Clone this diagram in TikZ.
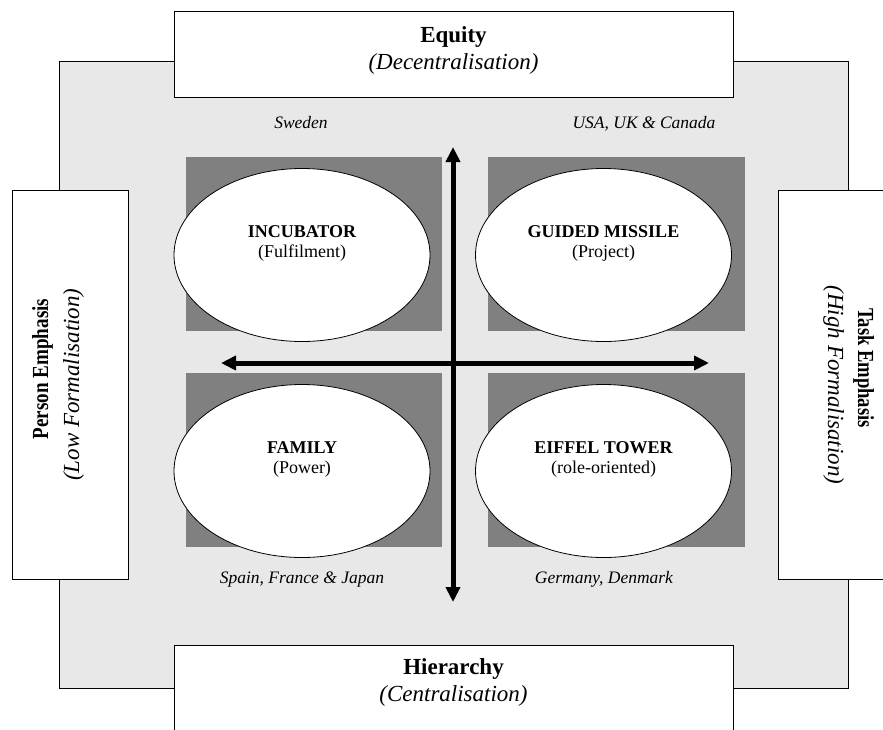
\documentclass[tikz,border=0pt]{standalone}
\usepackage{graphicx}
\usepackage{fontspec}
\setmainfont{Liberation Serif}
\usetikzlibrary{shapes.geometric,arrows.meta}

\definecolor{paper}{HTML}{E8E8E8}
\definecolor{shadow}{HTML}{808080}

\begin{document}
\begin{tikzpicture}[x=1pt,y=-1pt,
  sidebox/.style={draw=black, fill=white, line width=0.9pt, inner sep=0pt},
  culture/.style={ellipse, draw=black, fill=white, line width=0.8pt, minimum width=256pt, minimum height=173pt, inner sep=0pt},
  headtext/.style={font=\fontsize{23}{27}\selectfont\bfseries, anchor=base, inner sep=0pt},
  sidehead/.style={font=\fontsize{23}{27}\selectfont\bfseries, anchor=base, inner sep=0pt},
  subtext/.style={font=\fontsize{23}{27}\selectfont\itshape, anchor=base, inner sep=0pt},
  ctitle/.style={font=\fontsize{18}{21}\selectfont\bfseries, anchor=base, inner sep=0pt},
  csub/.style={font=\fontsize{18}{21}\selectfont, anchor=base, inner sep=0pt},
  country/.style={font=\fontsize{17.5}{20}\selectfont\itshape, anchor=base, inner sep=0pt},
  axis/.style={line width=5pt, {Triangle[length=15pt,width=14pt]}-{Triangle[length=15pt,width=14pt]}}] % Tikz environment
\useasboundingbox (0,0) rectangle (883,729);

% grey field behind everything
\filldraw[fill=paper, draw=black, line width=0.9pt] (59,61) rectangle (848,688);

% the four dimension boxes
\node[sidebox, minimum width=559pt, minimum height=86pt] (equity) at (453.5,54) {};
\node[sidebox, minimum width=559pt, minimum height=86pt] (hierarchy) at (453.5,688) {};
\node[sidebox, minimum width=116pt, minimum height=389pt] (person) at (70,384.5) {};
\node[sidebox, minimum width=116pt, minimum height=389pt] (task) at (836,384.5) {};

\node[headtext] (equityT) at (453.5,42) {Equity};
\node[subtext] (equityS) at (453.5,69) {(Decentralisation)};
\node[headtext] (hierarchyT) at (453.5,674) {Hierarchy};
\node[subtext] (hierarchyS) at (453.5,701) {(Centralisation)};
% the side titles are squeezed along the line
\node[sidehead, rotate=90] (personT) at (48,369) {\scalebox{0.83}[1]{Person Emphasis}};
\node[subtext, rotate=90] (personS) at (79,384.5) {(Low Formalisation)};
\node[sidehead, rotate=-90] (taskT) at (858,368) {\scalebox{0.81}[1]{Task Emphasis}};
\node[subtext, rotate=-90] (taskS) at (828,385) {(High Formalisation)};

% dark squares
\fill[shadow] (186,157) rectangle (442,331);
\fill[shadow] (488,157) rectangle (745,331);
\fill[shadow] (186,373) rectangle (442,547);
\fill[shadow] (488,373) rectangle (745,547);

% the four cultures
\node[culture] (incubator) at (302,255) {};
\node[culture] (missile) at (603.5,255) {};
\node[culture] (family) at (302,471) {};
\node[culture] (eiffel) at (603.5,471) {};

\node[ctitle] (incubatorT) at ([yshift=18pt]incubator.center) {INCUBATOR};
\node[csub] (incubatorS) at ([yshift=-2pt]incubator.center) {(Fulfilment)};
\node[ctitle] (missileT) at ([yshift=18pt]missile.center) {GUIDED MISSILE};
\node[csub] (missileS) at ([yshift=-2pt]missile.center) {(Project)};
\node[ctitle] (familyT) at ([yshift=18pt]family.center) {FAMILY};
\node[csub] (familyS) at ([yshift=-2pt]family.center) {(Power)};
\node[ctitle] (eiffelT) at ([yshift=18pt]eiffel.center) {EIFFEL TOWER};
\node[csub] (eiffelS) at ([yshift=-2pt]eiffel.center) {(role-oriented)};

% countries
\node[country] (sweden) at (301,128) {Sweden};
\node[country] (usa) at (644,128) {USA, UK \& Canada};
\node[country] (spain) at (302,583) {Spain, France \& Japan};
\node[country] (germany) at (604,583) {Germany, Denmark};

% axes
\coordinate (vtop) at (453,147);
\coordinate (vbot) at (453,602);
\coordinate (hleft) at (221,363);
\coordinate (hright) at (709,363);
\draw[axis] (vtop) -- (vbot);
\draw[axis] (hleft) -- (hright);
\end{tikzpicture}
\end{document}
